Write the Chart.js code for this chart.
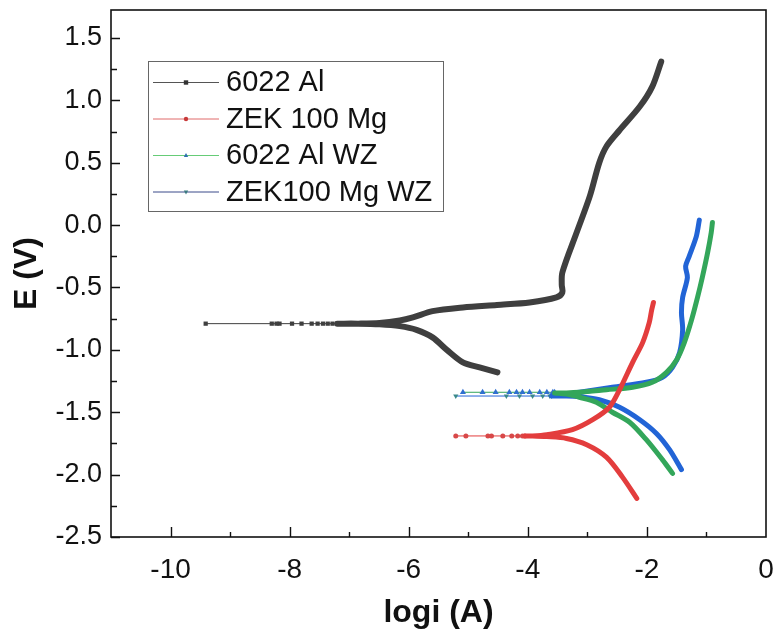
<!DOCTYPE html>
<html><head><meta charset="utf-8">
<script src="https://cdn.jsdelivr.net/npm/chart.js@4/dist/chart.umd.min.js"></script>
<style>html,body{margin:0;padding:0;background:#fff;}#wrap{width:777px;height:632px;position:relative;}</style>
</head><body><div id="wrap"><canvas id="c"></canvas></div>
<script>
// ---------- data ----------
const seriesNames = ['6022 Al', 'ZEK 100 Mg', '6022 Al WZ', 'ZEK100 Mg WZ'];
const xTickValues = [-10, -8, -6, -4, -2, 0];
const yTickValues = [-2.5, -2.0, -1.5, -1.0, -0.5, 0.0, 0.5, 1.0, 1.5];

// 6022 Al
const alCathX = [-4.51, -4.81, -5.09, -5.36, -5.60, -5.87, -6.15, -6.49, -6.85, -7.20];
const alCathY = [-1.18, -1.14, -1.10, -1.00, -0.90, -0.84, -0.81, -0.795, -0.79, -0.79];
const alTailX = [-7.20, -7.28, -7.36, -7.44, -7.53, -7.63, -7.80, -7.96, -8.17, -8.22, -8.30, -9.41];
const alTailY = [-0.79, -0.79, -0.79, -0.79, -0.79, -0.79, -0.79, -0.79, -0.79, -0.79, -0.79, -0.79];
const alAnodX = [-7.20, -6.85, -6.49, -6.15, -5.93, -5.60, -5.09, -4.52, -3.97, -3.52, -3.42, -3.43, -3.42, -3.18, -2.96, -2.80, -2.68, -2.46, -2.12, -1.91, -1.76];
const alAnodY = [-0.79, -0.79, -0.785, -0.765, -0.74, -0.69, -0.66, -0.64, -0.62, -0.58, -0.54, -0.48, -0.38, -0.06, 0.23, 0.50, 0.63, 0.76, 0.95, 1.11, 1.31];

// ZEK 100 Mg
const mgCathX = [-2.17, -2.41, -2.68, -3.01, -3.35, -3.68, -3.92, -4.05];
const mgCathY = [-2.19, -2.02, -1.86, -1.76, -1.71, -1.695, -1.69, -1.69];
const mgTailX = [-4.05, -4.09, -4.17, -4.27, -4.42, -4.61, -4.67, -5.04, -5.21];
const mgTailY = [-1.69, -1.69, -1.69, -1.69, -1.69, -1.69, -1.69, -1.69, -1.69];
const mgAnodX = [-4.05, -3.92, -3.68, -3.25, -2.91, -2.63, -2.46, -2.24, -2.07, -1.96, -1.92, -1.89];
const mgAnodY = [-1.69, -1.69, -1.68, -1.64, -1.56, -1.46, -1.32, -1.10, -0.94, -0.78, -0.68, -0.62];

// 6022 Al WZ
const alwCathX = [-1.57, -1.74, -2.01, -2.29, -2.58, -2.85, -3.13, -3.35, -3.55];
const alwCathY = [-1.99, -1.88, -1.72, -1.58, -1.50, -1.42, -1.38, -1.355, -1.345];
const alwTailX = [-3.55, -3.58, -3.68, -3.80, -3.97, -4.09, -4.19, -4.31, -4.54, -4.76, -5.09];
const alwTailY = [-1.34, -1.34, -1.34, -1.34, -1.34, -1.34, -1.34, -1.34, -1.34, -1.34, -1.34];
const alwAnodX = [-3.55, -3.35, -3.13, -2.68, -2.24, -1.91, -1.67, -1.50, -1.37, -1.25, -1.15, -1.07, -0.98, -0.92, -0.90];
const alwAnodY = [-1.345, -1.345, -1.34, -1.32, -1.30, -1.26, -1.18, -1.08, -0.94, -0.76, -0.58, -0.42, -0.22, -0.06, 0.02];

// ZEK100 Mg WZ
const mgwCathX = [-1.42, -1.62, -1.84, -2.12, -2.46, -2.80, -3.13, -3.40, -3.60];
const mgwCathY = [-1.96, -1.80, -1.67, -1.56, -1.46, -1.40, -1.375, -1.37, -1.37];
const mgwTailX = [-3.60, -3.63, -3.75, -3.92, -4.14, -4.36, -5.21];
const mgwTailY = [-1.37, -1.37, -1.37, -1.37, -1.37, -1.37, -1.37];
const mgwAnodX = [-3.60, -3.40, -3.13, -2.58, -2.01, -1.74, -1.57, -1.45, -1.40, -1.42, -1.40, -1.32, -1.35, -1.29, -1.17, -1.12];
const mgwAnodY = [-1.37, -1.36, -1.34, -1.30, -1.26, -1.22, -1.14, -1.02, -0.84, -0.70, -0.58, -0.42, -0.33, -0.25, -0.09, 0.04];

// ---------- styles ----------
const styles = [
  { line: '#3f3f3f', marker: '#3f3f3f', width: 6, pointStyle: 'rect', rotation: 0, r: 3, legendLine: '#555555', legendMarker: '#333333' },
  { line: '#e33d3d', marker: '#d84848', width: 5, pointStyle: 'circle', rotation: 0, r: 2.5, legendLine: '#e06a6a', legendMarker: '#c83a3a' },
  { line: '#33a65a', marker: '#2f6fd0', width: 5, pointStyle: 'triangle', rotation: 0, r: 3.5, legendLine: '#66cc77', legendMarker: '#2f6fb0' },
  { line: '#2264d6', marker: '#3a8a8a', width: 5, pointStyle: 'triangle', rotation: 180, r: 3, legendLine: '#3a4a8a', legendMarker: '#3a7a80' }
];

// ---------- build datasets ----------
function zip(xs, ys) { return xs.map((x, i) => ({ x: x, y: ys[i] })); }
function mainDataset(label, cx, cy, ax, ay, st) {
  return {
    label: label,
    data: zip(cx, cy).concat(zip(ax, ay)),
    showLine: true,
    tension: 0.3,
    borderColor: st.line,
    backgroundColor: st.line,
    borderWidth: st.width,
    borderJoinStyle: 'round',
    borderCapStyle: 'round',
    pointRadius: 0,
    pointHoverRadius: 0
  };
}
function tailDataset(label, tx, ty, st) {
  return {
    label: label + ' (tail)',
    data: zip(tx, ty),
    showLine: true,
    tension: 0,
    borderColor: st.line,
    backgroundColor: st.marker,
    borderWidth: 1,
    pointStyle: st.pointStyle,
    rotation: st.rotation,
    pointBorderWidth: 0,
    pointBackgroundColor: st.marker,
    pointRadius: st.r,
    pointHoverRadius: 0
  };
}

const datasets = [
  mainDataset(seriesNames[0], alCathX, alCathY, alAnodX, alAnodY, styles[0]),
  mainDataset(seriesNames[1], mgCathX, mgCathY, mgAnodX, mgAnodY, styles[1]),
  mainDataset(seriesNames[2], alwCathX, alwCathY, alwAnodX, alwAnodY, styles[2]),
  mainDataset(seriesNames[3], mgwCathX, mgwCathY, mgwAnodX, mgwAnodY, styles[3]),
  tailDataset(seriesNames[0], alTailX, alTailY, styles[0]),
  tailDataset(seriesNames[1], mgTailX, mgTailY, styles[1]),
  tailDataset(seriesNames[2], alwTailX, alwTailY, styles[2]),
  tailDataset(seriesNames[3], mgwTailX, mgwTailY, styles[3])
];

// ---------- plugins ----------
const framePlugin = {
  id: 'frameTicks',
  afterDraw(chart) {
    const { ctx, chartArea: a, scales: { x, y } } = chart;
    ctx.save();
    ctx.strokeStyle = '#111';
    ctx.lineWidth = 1.6;
    ctx.strokeRect(a.left, a.top, a.right - a.left, a.bottom - a.top);
    ctx.lineWidth = 1.4;
    ctx.beginPath();
    for (let v = x.min + 1; v < x.max; v += 1) {
      const px = Math.round(x.getPixelForValue(v)) + 0.5;
      const len = xTickValues.includes(v) ? 10 : 5;
      ctx.moveTo(px, a.bottom); ctx.lineTo(px, a.bottom - len);
    }
    for (let k = 0; k <= 16; k++) {
      const v = -2.5 + k * 0.25;
      const py = Math.round(y.getPixelForValue(v)) + 0.5;
      const len = (k % 2 === 0) ? 9 : 6;
      ctx.moveTo(a.left, py); ctx.lineTo(a.left + len, py);
    }
    ctx.stroke();
    ctx.restore();
  }
};

function drawMarker(ctx, style, rotation, x, y, r, color) {
  ctx.fillStyle = color;
  ctx.beginPath();
  if (style === 'rect') {
    ctx.rect(x - r, y - r, 2 * r, 2 * r);
  } else if (style === 'circle') {
    ctx.arc(x, y, r, 0, Math.PI * 2);
  } else {
    const s = rotation === 180 ? -1 : 1;
    ctx.moveTo(x, y - s * r * 1.1);
    ctx.lineTo(x - r, y + s * r * 0.7);
    ctx.lineTo(x + r, y + s * r * 0.7);
    ctx.closePath();
  }
  ctx.fill();
}

const boxLegend = {
  id: 'boxLegend',
  afterDraw(chart) {
    const { ctx, chartArea: a } = chart;
    const x0 = a.left + 37, y0 = a.top + 51, w = 295, h = 150;
    ctx.save();
    ctx.fillStyle = '#fff';
    ctx.fillRect(x0, y0, w, h);
    ctx.strokeStyle = '#666';
    ctx.lineWidth = 1;
    ctx.strokeRect(x0 + 0.5, y0 + 0.5, w, h);
    seriesNames.forEach((name, i) => {
      const st = styles[i];
      const cy = y0 + 21 + i * 36.5;
      ctx.strokeStyle = st.legendLine;
      ctx.lineWidth = 1;
      ctx.beginPath();
      ctx.moveTo(x0 + 5, cy + 0.5); ctx.lineTo(x0 + 71, cy + 0.5);
      ctx.stroke();
      drawMarker(ctx, st.pointStyle, st.rotation, x0 + 38, cy + 0.5, 2.2, st.legendMarker);
      ctx.fillStyle = '#111';
      ctx.font = '29px "Liberation Sans", Arial, sans-serif';
      ctx.textBaseline = 'middle';
      ctx.textAlign = 'left';
      ctx.fillText(name, x0 + 78, cy + 1);
    });
    ctx.restore();
  }
};

// ---------- chart ----------
Chart.defaults.font.family = '"Liberation Sans", Arial, sans-serif';
Chart.defaults.color = '#111';

new Chart(document.getElementById('c'), {
  type: 'scatter',
  data: { datasets: datasets },
  options: {
    responsive: true,
    maintainAspectRatio: false,
    animation: false,
    layout: { padding: { top: 10, right: 11, left: 0, bottom: 0 } },
    plugins: { legend: { display: false }, tooltip: { enabled: false } },
    scales: {
      x: {
        type: 'linear',
        min: -11, max: 0,
        afterBuildTicks: s => { s.ticks = xTickValues.map(v => ({ value: v })); },
        afterFit: s => { s.height = 95; s.paddingLeft = 0; s.paddingRight = 0; },
        grid: { display: false, drawTicks: false },
        border: { display: false },
        ticks: { font: { size: 28 }, color: '#111', padding: 16, maxRotation: 0, callback: v => String(v) },
        title: { display: true, text: 'logi (A)', font: { size: 32, weight: 'bold' }, color: '#111', padding: { top: 0, bottom: 0 } }
      },
      y: {
        type: 'linear',
        min: -2.5, max: 1.724,
        afterBuildTicks: s => { s.ticks = yTickValues.map(v => ({ value: v })); },
        afterFit: s => { s.width = 111; s.paddingTop = 0; s.paddingBottom = 0; },
        grid: { display: false, drawTicks: false },
        border: { display: false },
        ticks: { font: { size: 27 }, color: '#111', padding: 9, callback: v => Number(v).toFixed(1) },
        title: { display: true, text: 'E (V)', font: { size: 32, weight: 'bold' }, color: '#111', padding: { top: 8, bottom: 0 } }
      }
    }
  },
  plugins: [framePlugin, boxLegend]
});
</script>
</body></html>
